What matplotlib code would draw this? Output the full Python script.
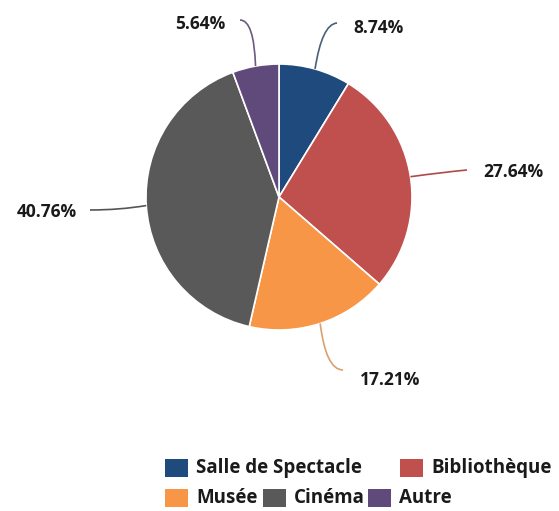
import matplotlib.pyplot as plt
from matplotlib.patches import Rectangle, PathPatch
from matplotlib.path import Path
import numpy as np

categories = ["Salle de Spectacle", "Bibliothèque", "Musée", "Cinéma", "Autre"]
values = [8.74, 27.64, 17.21, 40.76, 5.64]
colors = ["#1f4a7e", "#c0504d", "#f79646", "#595959", "#604a7b"]
line_colors = ["#4a5f7a", "#b04a48", "#d9a070", "#555555", "#6a5a80"]

W, H = 559, 511
fig = plt.figure(figsize=(W / 100, H / 100), dpi=100)
ax = fig.add_axes([0, 0, 1, 1])

cx, cy, r = 279, H - 197, 133
wedges, _ = ax.pie(values, colors=colors, startangle=90, counterclock=False,
                   center=(cx, cy), radius=r, frame=True,
                   wedgeprops=dict(edgecolor="white", linewidth=1.2))
ax.set_xlim(0, W)
ax.set_ylim(0, H)
ax.set_aspect("equal")
ax.axis("off")

# label anchor (end of leader line) and control point, in pixel coords (y down)
label_pos = [(353, 28), (483, 172), (360, 380), (77, 212), (225, 24)]
line_end = [(337, 23), (467, 170), (343, 370), (90, 210), (240, 20)]
ctrl = [(322, 24), (445, 172), (326, 370), (120, 210), (254, 20)]
ha = ["left", "left", "left", "right", "right"]

for i, w in enumerate(wedges):
    ang = np.deg2rad((w.theta1 + w.theta2) / 2)
    sx, sy = cx + r * np.cos(ang), cy + r * np.sin(ang)
    ex, ey = line_end[i][0], H - line_end[i][1]
    qx, qy = ctrl[i][0], H - ctrl[i][1]
    p = Path([(sx, sy), (qx, qy), (ex, ey)], [Path.MOVETO, Path.CURVE3, Path.CURVE3])
    ax.add_patch(PathPatch(p, fill=False, edgecolor=line_colors[i], linewidth=1.2))
    lx, ly = label_pos[i]
    ax.text(lx, H - ly, f"{values[i]:.2f}%", ha=ha[i], va="center",
            fontsize=12.5, fontweight="bold", family="Open Sans", color="#1a1a1a")

# legend
legend_pos = [(165, 468), (400, 468), (165, 498), (263, 498), (368, 498)]
for (lx, ly), c, name in zip(legend_pos, colors, categories):
    ax.add_patch(Rectangle((lx, H - ly - 9), 23, 18, facecolor=c, edgecolor="none"))
    ax.text(lx + 31, H - ly, name, ha="left", va="center", fontsize=13.5,
            fontweight="bold", family="Open Sans", color="#1a1a1a")

fig.savefig("out.png", dpi=100)
